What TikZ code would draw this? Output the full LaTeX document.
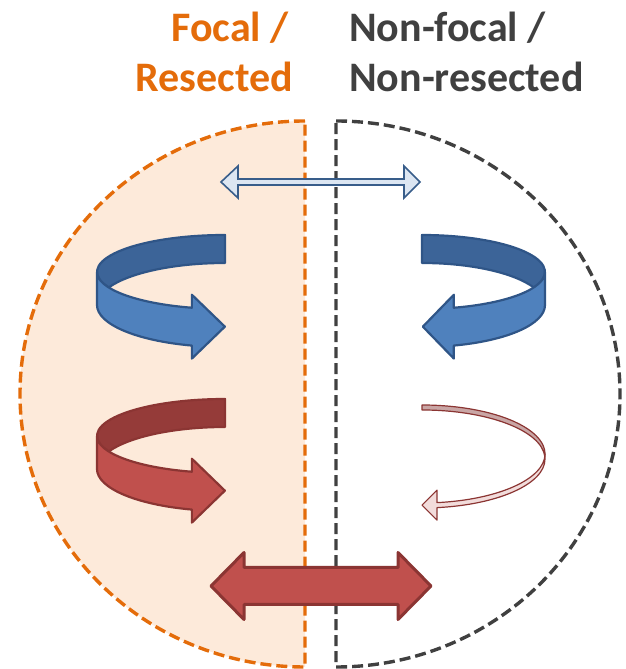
\documentclass[tikz,border=0pt]{standalone}
\usepackage{fontspec}
\setmainfont{Carlito}
\definecolor{orng}{HTML}{E46C0A}
\definecolor{orngfill}{HTML}{FDEADA}
\definecolor{darkgray}{HTML}{404040}
\definecolor{bluelt}{HTML}{4F81BD}
\definecolor{bluedk}{HTML}{3C6498}
\definecolor{bluest}{HTML}{2F5587}
\definecolor{bluepale}{HTML}{DCE6F2}
\definecolor{bluepst}{HTML}{385D8A}
\definecolor{redlt}{HTML}{C0504D}
\definecolor{reddk}{HTML}{953B39}
\definecolor{redst}{HTML}{8B3533}
\definecolor{redpale}{HTML}{F2DCDB}
\definecolor{redpaledk}{HTML}{C9A6A5}
\tikzset{
  halfline/.style={dash pattern=on 11pt off 5pt, line width=3.4pt},
  titletext/.style={inner sep=0pt, font=\bfseries\fontsize{42}{50}\selectfont},
  bluedark/.style={fill=bluedk, draw=bluest, line width=2.2pt, line join=round},
  bluelight/.style={fill=bluelt, draw=bluest, line width=2.2pt, line join=round},
  reddark/.style={fill=reddk, draw=redst, line width=2.2pt, line join=round},
  redlight/.style={fill=redlt, draw=redst, line width=2.2pt, line join=round},
  thindark/.style={fill=redpaledk, draw=redst, line width=1.2pt, line join=round},
  thinlight/.style={fill=redpale, draw=redst, line width=1.2pt, line join=round},
  paleblue/.style={fill=bluepale, draw=bluepst, line width=1.6pt, line join=miter},
  bigred/.style={fill=redlt, draw=redst, line width=3pt, line join=round}
}
% curved ribbon arrow in a local frame: top ellipse centred at origin
\newcommand\ribbon[3]{%
\begin{scope}[#1]
\pgfmathsetmacro\RBa{asin(\RBh/(\RBryt+\RBryb))}
\pgfmathsetmacro\RBhx{\RBrx*cos(\RBth)}
\pgfmathsetmacro\RBtopy{\RBryt*sin(\RBth)}
\pgfmathsetmacro\RBboty{-\RBh+\RBryb*sin(\RBth)}
\pgfmathsetmacro\RBmid{(\RBtopy+\RBboty)/2}
\filldraw[#2] (0,\RBryt) arc[start angle=90, end angle={180+\RBa}, x radius=\RBrx, y radius=\RBryt]
  arc[start angle={180-\RBa}, end angle=90, x radius=\RBrx, y radius=\RBryb] -- cycle;
\filldraw[#3] (-\RBrx,0) arc[start angle=180, end angle=\RBth, x radius=\RBrx, y radius=\RBryt]
  -- (\RBhx,\RBtopy+\RBe) -- (\RBhx+\RBtl,\RBmid) -- (\RBhx,\RBboty-\RBe) -- (\RBhx,\RBboty)
  arc[start angle=\RBth, end angle=180, x radius=\RBrx, y radius=\RBryb] -- cycle;
\end{scope}}
\begin{document}
\begin{tikzpicture}[x=1pt,y=1pt]
\useasboundingbox (0,0) rectangle (626,669);
% halves
\filldraw[halfline, draw=orng, fill=orngfill] (305,548)
  arc[start angle=90, end angle=270, x radius=285, y radius=273] -- cycle;
\draw[halfline, draw=darkgray] (336,548)
  arc[start angle=90, end angle=-90, x radius=284, y radius=273] -- cycle;
% titles
\node[titletext, text=orng, anchor=base east] (focal1) at (289,627) {Focal /};
\node[titletext, text=orng, anchor=base east] (focal2) at (293,577) {Resected};
\node[titletext, text=darkgray, anchor=base west] (nonfocal1) at (349,627) {Non-focal /};
\node[titletext, text=darkgray, anchor=base west] (nonfocal2) at (349,577) {Non-resected};
% top pale double arrow
\filldraw[paleblue] (221,487) -- (238,503) -- (238,490) -- (404,490) -- (404,503) -- (420,487)
  -- (404,471) -- (404,484) -- (238,484) -- (238,471) -- cycle;
% bottom red double arrow
\filldraw[bigred] (211,83) -- (244,116.5) -- (244,101.5) -- (398,101.5) -- (398,116.5) -- (431,83)
  -- (398,49.5) -- (398,64.5) -- (244,64.5) -- (244,49.5) -- cycle;
% curved ribbon arrows
\def\RBrx{128}\def\RBryt{37}\def\RBh{33}\def\RBryb{42}\def\RBth{255}\def\RBe{13}\def\RBtl{33}
\ribbon{shift={(225,397)}}{bluedark}{bluelight}
\ribbon{shift={(225,233)}}{reddark}{redlight}
\def\RBrx{123}\def\RBtl{31}
\ribbon{shift={(422,397)},xscale=-1}{bluedark}{bluelight}
\def\RBrx{123}\def\RBryt{49}\def\RBh{5}\def\RBryb{49}\def\RBth{263}\def\RBe{12.5}\def\RBtl{15}
\ribbon{shift={(422,215)},xscale=-1}{thindark}{thinlight}
\end{tikzpicture}
\end{document}
